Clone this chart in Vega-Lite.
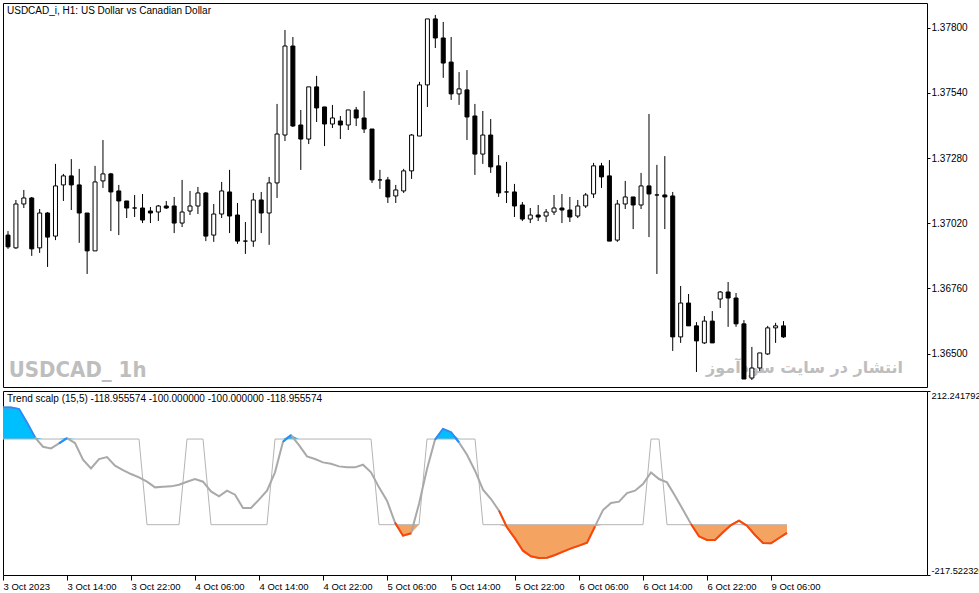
{
  "$schema": "https://vega.github.io/schema/vega-lite/v6.json",
  "background": "white",
  "padding": {"left": 2, "top": 2, "right": 0, "bottom": 0},
  "spacing": 2,
  "config": {
    "view": {"stroke": "black", "strokeWidth": 1},
    "font": "Liberation Sans",
    "axis": {"labelFont": "Liberation Sans", "labelFontSize": 10, "labelColor": "black", "tickColor": "black", "domain": false, "grid": false, "tickSize": 5, "labelPadding": 2, "labelFlush": false},
    "axisX": {"labelFontSize": 9.5},
    "axisY": {"tickSize": 3, "labelPadding": 1},
    "title": {"font": "Liberation Sans", "fontSize": 10, "fontWeight": "normal", "color": "black", "anchor": "start", "frame": "group"}
  },
  "data": {"values": [
    {"i":1,"o":1.36973,"h":1.36989,"l":1.36918,"c":1.36926,"v":173.9,"s":100,"fu":173.9,"fd":-100,"vb":173.9},
    {"i":2,"o":1.36922,"h":1.37113,"l":1.36918,"c":1.37097,"v":173.9,"s":100,"fu":173.9,"fd":-100,"vb":173.9},
    {"i":3,"o":1.37097,"h":1.37153,"l":1.37081,"c":1.37121,"v":170.0,"s":100,"fu":170.0,"fd":-100,"vb":170.0},
    {"i":4,"o":1.37121,"h":1.37125,"l":1.36890,"c":1.36918,"v":138.1,"s":100,"fu":138.1,"fd":-100,"vb":138.1},
    {"i":5,"o":1.36922,"h":1.37077,"l":1.36902,"c":1.37061,"v":103.9,"s":100,"fu":103.9,"fd":-100,"vb":103.9},
    {"i":6,"o":1.37061,"h":1.37065,"l":1.36846,"c":1.36965,"v":82.1,"s":100,"fu":100,"fd":-100},
    {"i":7,"o":1.36969,"h":1.37257,"l":1.36953,"c":1.37169,"v":78.2,"s":100,"fu":100,"fd":-100},
    {"i":8,"o":1.37173,"h":1.37217,"l":1.37109,"c":1.37209,"v":89.9,"s":100,"fu":100,"fd":-100,"vb":89.9},
    {"i":9,"o":1.37209,"h":1.37276,"l":1.37073,"c":1.37173,"v":102.3,"s":100,"fu":102.3,"fd":-100,"vb":102.3},
    {"i":10,"o":1.37173,"h":1.37237,"l":1.36942,"c":1.37061,"v":90.7,"s":100,"fu":100,"fd":-100},
    {"i":11,"o":1.37061,"h":1.37061,"l":1.36818,"c":1.36910,"v":51.8,"s":100,"fu":100,"fd":-100},
    {"i":12,"o":1.36910,"h":1.37249,"l":1.36910,"c":1.37185,"v":31.5,"s":100,"fu":100,"fd":-100},
    {"i":13,"o":1.37189,"h":1.37352,"l":1.37161,"c":1.37217,"v":53.3,"s":100,"fu":100,"fd":-100},
    {"i":14,"o":1.37217,"h":1.37221,"l":1.36989,"c":1.37145,"v":58.0,"s":100,"fu":100,"fd":-100},
    {"i":15,"o":1.37149,"h":1.37173,"l":1.36973,"c":1.37109,"v":37.7,"s":100,"fu":100,"fd":-100},
    {"i":16,"o":1.37109,"h":1.37109,"l":1.37041,"c":1.37081,"v":27.6,"s":100,"fu":100,"fd":-100},
    {"i":17,"o":1.37081,"h":1.37133,"l":1.37045,"c":1.37081,"v":18.3,"s":100,"fu":100,"fd":-100},
    {"i":18,"o":1.37081,"h":1.37137,"l":1.37021,"c":1.37033,"v":10.5,"s":100,"fu":100,"fd":-100},
    {"i":19,"o":1.37069,"h":1.37085,"l":1.37021,"c":1.37061,"v":0.4,"s":-100,"fu":100,"fd":-100},
    {"i":20,"o":1.37065,"h":1.37093,"l":1.37029,"c":1.37089,"v":-12.8,"s":-100,"fu":100,"fd":-100},
    {"i":21,"o":1.37089,"h":1.37109,"l":1.37077,"c":1.37081,"v":-11.3,"s":-100,"fu":100,"fd":-100},
    {"i":22,"o":1.37089,"h":1.37125,"l":1.36981,"c":1.37021,"v":-10.5,"s":-100,"fu":100,"fd":-100},
    {"i":23,"o":1.37021,"h":1.37193,"l":1.37005,"c":1.37065,"v":-6.6,"s":-100,"fu":100,"fd":-100},
    {"i":24,"o":1.37069,"h":1.37149,"l":1.37053,"c":1.37089,"v":0.4,"s":100,"fu":100,"fd":-100},
    {"i":25,"o":1.37089,"h":1.37165,"l":1.37057,"c":1.37141,"v":6.6,"s":100,"fu":100,"fd":-100},
    {"i":26,"o":1.37141,"h":1.37145,"l":1.36949,"c":1.36969,"v":0.4,"s":100,"fu":100,"fd":-100},
    {"i":27,"o":1.36973,"h":1.37097,"l":1.36946,"c":1.37057,"v":-22.2,"s":-100,"fu":100,"fd":-100},
    {"i":28,"o":1.37057,"h":1.37185,"l":1.37041,"c":1.37149,"v":-33.8,"s":-100,"fu":100,"fd":-100},
    {"i":29,"o":1.37145,"h":1.37233,"l":1.36981,"c":1.37049,"v":-20.6,"s":-100,"fu":100,"fd":-100},
    {"i":30,"o":1.37053,"h":1.37101,"l":1.36938,"c":1.36949,"v":-29.9,"s":-100,"fu":100,"fd":-100},
    {"i":31,"o":1.36949,"h":1.37025,"l":1.36898,"c":1.36949,"v":-61.1,"s":-100,"fu":100,"fd":-100},
    {"i":32,"o":1.36949,"h":1.37141,"l":1.36926,"c":1.37113,"v":-61.1,"s":-100,"fu":100,"fd":-100},
    {"i":33,"o":1.37113,"h":1.37145,"l":1.36981,"c":1.37061,"v":-41.6,"s":-100,"fu":100,"fd":-100},
    {"i":34,"o":1.37061,"h":1.37205,"l":1.36934,"c":1.37181,"v":-20.6,"s":-100,"fu":100,"fd":-100},
    {"i":35,"o":1.37181,"h":1.37496,"l":1.37121,"c":1.37376,"v":22.2,"s":100,"fu":100,"fd":-100},
    {"i":36,"o":1.37372,"h":1.37791,"l":1.37348,"c":1.37727,"v":93.8,"s":100,"fu":100,"fd":-100,"vb":93.8},
    {"i":37,"o":1.37727,"h":1.37763,"l":1.37404,"c":1.37408,"v":109.3,"s":100,"fu":109.3,"fd":-100,"vb":109.3},
    {"i":38,"o":1.37412,"h":1.37472,"l":1.37233,"c":1.37356,"v":86.0,"s":100,"fu":100,"fd":-100},
    {"i":39,"o":1.37356,"h":1.37564,"l":1.37336,"c":1.37564,"v":59.5,"s":100,"fu":100,"fd":-100},
    {"i":40,"o":1.37564,"h":1.37608,"l":1.37424,"c":1.37480,"v":53.3,"s":100,"fu":100,"fd":-100},
    {"i":41,"o":1.37484,"h":1.37484,"l":1.37328,"c":1.37416,"v":45.5,"s":100,"fu":100,"fd":-100},
    {"i":42,"o":1.37416,"h":1.37492,"l":1.37400,"c":1.37440,"v":42.4,"s":100,"fu":100,"fd":-100},
    {"i":43,"o":1.37428,"h":1.37448,"l":1.37356,"c":1.37412,"v":36.2,"s":100,"fu":100,"fd":-100},
    {"i":44,"o":1.37412,"h":1.37472,"l":1.37392,"c":1.37472,"v":33.9,"s":100,"fu":100,"fd":-100},
    {"i":45,"o":1.37472,"h":1.37484,"l":1.37408,"c":1.37440,"v":33.9,"s":100,"fu":100,"fd":-100},
    {"i":46,"o":1.37440,"h":1.37548,"l":1.37380,"c":1.37396,"v":40.1,"s":100,"fu":100,"fd":-100},
    {"i":47,"o":1.37396,"h":1.37396,"l":1.37181,"c":1.37193,"v":22.2,"s":100,"fu":100,"fd":-100},
    {"i":48,"o":1.37193,"h":1.37233,"l":1.37157,"c":1.37193,"v":-12.8,"s":-100,"fu":100,"fd":-100},
    {"i":49,"o":1.37193,"h":1.37205,"l":1.37101,"c":1.37125,"v":-44.0,"s":-100,"fu":100,"fd":-100},
    {"i":50,"o":1.37129,"h":1.37173,"l":1.37101,"c":1.37153,"v":-95.0,"s":-100,"fu":100,"fd":-100,"vr":-95.0},
    {"i":51,"o":1.37149,"h":1.37237,"l":1.37141,"c":1.37229,"v":-125.7,"s":-100,"fu":100,"fd":-125.7,"vr":-125.7},
    {"i":52,"o":1.37229,"h":1.37376,"l":1.37197,"c":1.37372,"v":-120.2,"s":-100,"fu":100,"fd":-120.2,"vr":-120.2},
    {"i":53,"o":1.37368,"h":1.37584,"l":1.37368,"c":1.37572,"v":-51.7,"s":-100,"fu":100,"fd":-100},
    {"i":54,"o":1.37572,"h":1.37835,"l":1.37484,"c":1.37835,"v":30.0,"s":100,"fu":100,"fd":-100},
    {"i":55,"o":1.37835,"h":1.37851,"l":1.37719,"c":1.37759,"v":98.4,"s":100,"fu":100,"fd":-100,"vb":98.4},
    {"i":56,"o":1.37759,"h":1.37823,"l":1.37600,"c":1.37659,"v":123.4,"s":100,"fu":123.4,"fd":-100,"vb":123.4},
    {"i":57,"o":1.37663,"h":1.37763,"l":1.37512,"c":1.37536,"v":115.6,"s":100,"fu":115.6,"fd":-100,"vb":115.6},
    {"i":58,"o":1.37536,"h":1.37623,"l":1.37492,"c":1.37556,"v":92.2,"s":100,"fu":100,"fd":-100,"vb":92.2},
    {"i":59,"o":1.37552,"h":1.37631,"l":1.37352,"c":1.37444,"v":63.4,"s":100,"fu":100,"fd":-100},
    {"i":60,"o":1.37448,"h":1.37496,"l":1.37213,"c":1.37296,"v":26.1,"s":100,"fu":100,"fd":-100},
    {"i":61,"o":1.37296,"h":1.37468,"l":1.37257,"c":1.37372,"v":-18.3,"s":-100,"fu":100,"fd":-100},
    {"i":62,"o":1.37372,"h":1.37436,"l":1.37221,"c":1.37245,"v":-40.1,"s":-100,"fu":100,"fd":-100},
    {"i":63,"o":1.37249,"h":1.37292,"l":1.37125,"c":1.37141,"v":-67.3,"s":-100,"fu":100,"fd":-100,"vr":-67.3},
    {"i":64,"o":1.37145,"h":1.37265,"l":1.37101,"c":1.37145,"v":-106.2,"s":-100,"fu":100,"fd":-106.2,"vr":-106.2},
    {"i":65,"o":1.37145,"h":1.37177,"l":1.37045,"c":1.37089,"v":-131.9,"s":-100,"fu":100,"fd":-131.9,"vr":-131.9},
    {"i":66,"o":1.37093,"h":1.37105,"l":1.37029,"c":1.37037,"v":-160.7,"s":-100,"fu":100,"fd":-160.7,"vr":-160.7},
    {"i":67,"o":1.37037,"h":1.37081,"l":1.37021,"c":1.37053,"v":-173.9,"s":-100,"fu":100,"fd":-173.9,"vr":-173.9},
    {"i":68,"o":1.37053,"h":1.37093,"l":1.37029,"c":1.37045,"v":-177.8,"s":-100,"fu":100,"fd":-177.8,"vr":-177.8},
    {"i":69,"o":1.37049,"h":1.37077,"l":1.37025,"c":1.37065,"v":-177.0,"s":-100,"fu":100,"fd":-177.0,"vr":-177.0},
    {"i":70,"o":1.37065,"h":1.37133,"l":1.37053,"c":1.37081,"v":-170.8,"s":-100,"fu":100,"fd":-170.8,"vr":-170.8},
    {"i":71,"o":1.37081,"h":1.37137,"l":1.37021,"c":1.37073,"v":-163.0,"s":-100,"fu":100,"fd":-163.0,"vr":-163.0},
    {"i":72,"o":1.37073,"h":1.37125,"l":1.37025,"c":1.37045,"v":-155.2,"s":-100,"fu":100,"fd":-155.2,"vr":-155.2},
    {"i":73,"o":1.37049,"h":1.37113,"l":1.37041,"c":1.37089,"v":-149.0,"s":-100,"fu":100,"fd":-149.0,"vr":-149.0},
    {"i":74,"o":1.37089,"h":1.37141,"l":1.37081,"c":1.37133,"v":-142.0,"s":-100,"fu":100,"fd":-142.0,"vr":-142.0},
    {"i":75,"o":1.37137,"h":1.37261,"l":1.37121,"c":1.37249,"v":-103.9,"s":-100,"fu":100,"fd":-103.9,"vr":-103.9},
    {"i":76,"o":1.37249,"h":1.37261,"l":1.37161,"c":1.37205,"v":-65.8,"s":-100,"fu":100,"fd":-100},
    {"i":77,"o":1.37209,"h":1.37272,"l":1.36949,"c":1.36949,"v":-49.4,"s":-100,"fu":100,"fd":-100},
    {"i":78,"o":1.36953,"h":1.37113,"l":1.36946,"c":1.37097,"v":-46.3,"s":-100,"fu":100,"fd":-100},
    {"i":79,"o":1.37097,"h":1.37189,"l":1.37077,"c":1.37125,"v":-26.1,"s":-100,"fu":100,"fd":-100},
    {"i":80,"o":1.37125,"h":1.37125,"l":1.36997,"c":1.37093,"v":-20.6,"s":-100,"fu":100,"fd":-100},
    {"i":81,"o":1.37093,"h":1.37221,"l":1.37077,"c":1.37169,"v":-5.1,"s":-100,"fu":100,"fd":-100},
    {"i":82,"o":1.37169,"h":1.37456,"l":1.36965,"c":1.37137,"v":22.2,"s":100,"fu":100,"fd":-100},
    {"i":83,"o":1.37133,"h":1.37253,"l":1.36818,"c":1.37133,"v":6.6,"s":100,"fu":100,"fd":-100},
    {"i":84,"o":1.37133,"h":1.37288,"l":1.36997,"c":1.37125,"v":-1.2,"s":-100,"fu":100,"fd":-100},
    {"i":85,"o":1.37129,"h":1.37145,"l":1.36511,"c":1.36567,"v":-32.3,"s":-100,"fu":100,"fd":-100},
    {"i":86,"o":1.36567,"h":1.36770,"l":1.36543,"c":1.36702,"v":-65.0,"s":-100,"fu":100,"fd":-100},
    {"i":87,"o":1.36702,"h":1.36738,"l":1.36611,"c":1.36611,"v":-98.4,"s":-100,"fu":100,"fd":-100,"vr":-98.4},
    {"i":88,"o":1.36611,"h":1.36626,"l":1.36427,"c":1.36551,"v":-127.2,"s":-100,"fu":100,"fd":-127.2,"vr":-127.2},
    {"i":89,"o":1.36543,"h":1.36650,"l":1.36539,"c":1.36630,"v":-135.8,"s":-100,"fu":100,"fd":-135.8,"vr":-135.8},
    {"i":90,"o":1.36630,"h":1.36670,"l":1.36543,"c":1.36543,"v":-135.8,"s":-100,"fu":100,"fd":-135.8,"vr":-135.8},
    {"i":91,"o":1.36718,"h":1.36750,"l":1.36682,"c":1.36746,"v":-117.9,"s":-100,"fu":100,"fd":-117.9,"vr":-117.9},
    {"i":92,"o":1.36746,"h":1.36786,"l":1.36607,"c":1.36722,"v":-100.8,"s":-100,"fu":100,"fd":-100.8,"vr":-100.8},
    {"i":93,"o":1.36722,"h":1.36742,"l":1.36607,"c":1.36619,"v":-90.7,"s":-100,"fu":100,"fd":-100,"vr":-90.7},
    {"i":94,"o":1.36619,"h":1.36634,"l":1.36399,"c":1.36399,"v":-102.3,"s":-100,"fu":100,"fd":-102.3,"vr":-102.3},
    {"i":95,"o":1.36403,"h":1.36527,"l":1.36395,"c":1.36443,"v":-124.1,"s":-100,"fu":100,"fd":-124.1,"vr":-124.1},
    {"i":96,"o":1.36443,"h":1.36503,"l":1.36431,"c":1.36503,"v":-142.8,"s":-100,"fu":100,"fd":-142.8,"vr":-142.8},
    {"i":97,"o":1.36499,"h":1.36611,"l":1.36495,"c":1.36603,"v":-143.6,"s":-100,"fu":100,"fd":-143.6,"vr":-143.6},
    {"i":98,"o":1.36603,"h":1.36623,"l":1.36543,"c":1.36611,"v":-131.1,"s":-100,"fu":100,"fd":-131.1,"vr":-131.1},
    {"i":99,"o":1.36611,"h":1.36630,"l":1.36563,"c":1.36567,"v":-118.96,"s":-100,"fu":100,"fd":-118.96,"vr":-118.96}
  ]},
  "vconcat": [
    {
      "width": 924,
      "height": 384,
      "title": {"text": "USDCAD_i, H1:  US Dollar vs Canadian Dollar", "offset": -13, "dx": 4},
      "layer": [
        {
          "data": {"values": [{"label": "USDCAD_ 1h"}]},
          "mark": {"type": "text", "align": "left", "baseline": "alphabetic", "font": "DejaVu Sans Condensed, Roboto, Liberation Sans", "fontWeight": "bold", "fontSize": 22},
          "encoding": {
            "x": {"datum": 1.1, "type": "quantitative", "scale": {"domain": [1, 116.5], "nice": false, "zero": false}, "axis": null},
            "y": {"datum": 1.36407, "type": "quantitative", "scale": {"domain": [1.363672, 1.378985], "nice": false, "zero": false},
                  "axis": {"orient": "right", "title": null, "format": ".5f", "values": [1.365, 1.3663, 1.3676, 1.3689, 1.3702, 1.3715, 1.3728, 1.3741, 1.3754, 1.3767, 1.378]}},
            "text": {"field": "label"},
            "color": {"value": "#BEBEBE"}
          }
        },
        {
          "data": {"values": [{"label": "انتشار در سایت سودآموز"}]},
          "mark": {"type": "text", "align": "right", "baseline": "alphabetic", "font": "DejaVu Sans", "fontWeight": "bold", "fontSize": 16},
          "encoding": {
            "x": {"datum": 114.1, "type": "quantitative", "axis": null},
            "y": {"datum": 1.36423, "type": "quantitative", "title": null},
            "text": {"field": "label"},
            "color": {"value": "#BEBEBE"}
          }
        },
        {
          "mark": {"type": "rule", "color": "black", "strokeWidth": 1, "clip": true},
          "encoding": {
            "x": {"field": "i", "type": "quantitative", "axis": null},
            "y": {"field": "l", "type": "quantitative", "title": null},
            "y2": {"field": "h"}
          }
        },
        {
          "mark": {"type": "bar", "size": 4, "stroke": "black", "strokeWidth": 1, "clip": true},
          "encoding": {
            "x": {"field": "i", "type": "quantitative", "axis": null},
            "y": {"field": "o", "type": "quantitative", "title": null},
            "y2": {"field": "c"},
            "fill": {"condition": {"test": "datum.c < datum.o", "value": "black"}, "value": "white"}
          }
        }
      ]
    },
    {
      "width": 924,
      "height": 184,
      "title": {"text": "Trend scalp (15,5) -118.955574 -100.000000 -100.000000 -118.955574", "offset": -13, "dx": 4},
      "encoding": {
        "x": {"field": "i", "type": "quantitative", "scale": {"domain": [1, 116.5], "nice": false, "zero": false},
              "axis": {"title": null, "values": [1, 9, 17, 25, 33, 41, 49, 57, 65, 73, 81, 89, 97], "labelAlign": "left", "labelPadding": 1,
                       "labelExpr": "['3 Oct 2023','3 Oct 14:00','3 Oct 22:00','4 Oct 06:00','4 Oct 14:00','4 Oct 22:00','5 Oct 06:00','5 Oct 14:00','5 Oct 22:00','6 Oct 06:00','6 Oct 14:00','6 Oct 22:00','9 Oct 06:00'][(datum.value - 1) / 8]"}}
      },
      "layer": [
        {
          "mark": {"type": "area", "color": "#00BFFF", "clip": true},
          "encoding": {
            "y": {"field": "fu", "type": "quantitative", "scale": {"domain": [-217.52232, 212.241792], "nice": false, "zero": false},
                  "axis": {"orient": "right", "title": null, "values": [-217.52232, 212.241792], "labelFlush": true, "labelFontSize": 9.3,
                           "labelExpr": "replace(format(datum.value, '.6f'), '\u2212', '-')"}},
            "y2": {"datum": 100}
          }
        },
        {
          "mark": {"type": "area", "color": "#F4A460", "clip": true},
          "encoding": {
            "y": {"field": "fd", "type": "quantitative", "title": null},
            "y2": {"datum": -100}
          }
        },
        {
          "mark": {"type": "line", "color": "#B4B4B4", "strokeWidth": 1, "clip": true},
          "encoding": {"y": {"field": "s", "type": "quantitative", "title": null}}
        },
        {
          "mark": {"type": "line", "color": "#A9A9A9", "strokeWidth": 2, "clip": true},
          "encoding": {"y": {"field": "v", "type": "quantitative", "title": null}}
        },
        {
          "mark": {"type": "line", "color": "#1E90FF", "strokeWidth": 2, "clip": true, "invalid": "break-paths-show-domains"},
          "encoding": {"y": {"field": "vb", "type": "quantitative", "title": null}}
        },
        {
          "mark": {"type": "line", "color": "#FF4500", "strokeWidth": 2, "clip": true, "invalid": "break-paths-show-domains"},
          "encoding": {"y": {"field": "vr", "type": "quantitative", "title": null}}
        }
      ]
    }
  ]
}
